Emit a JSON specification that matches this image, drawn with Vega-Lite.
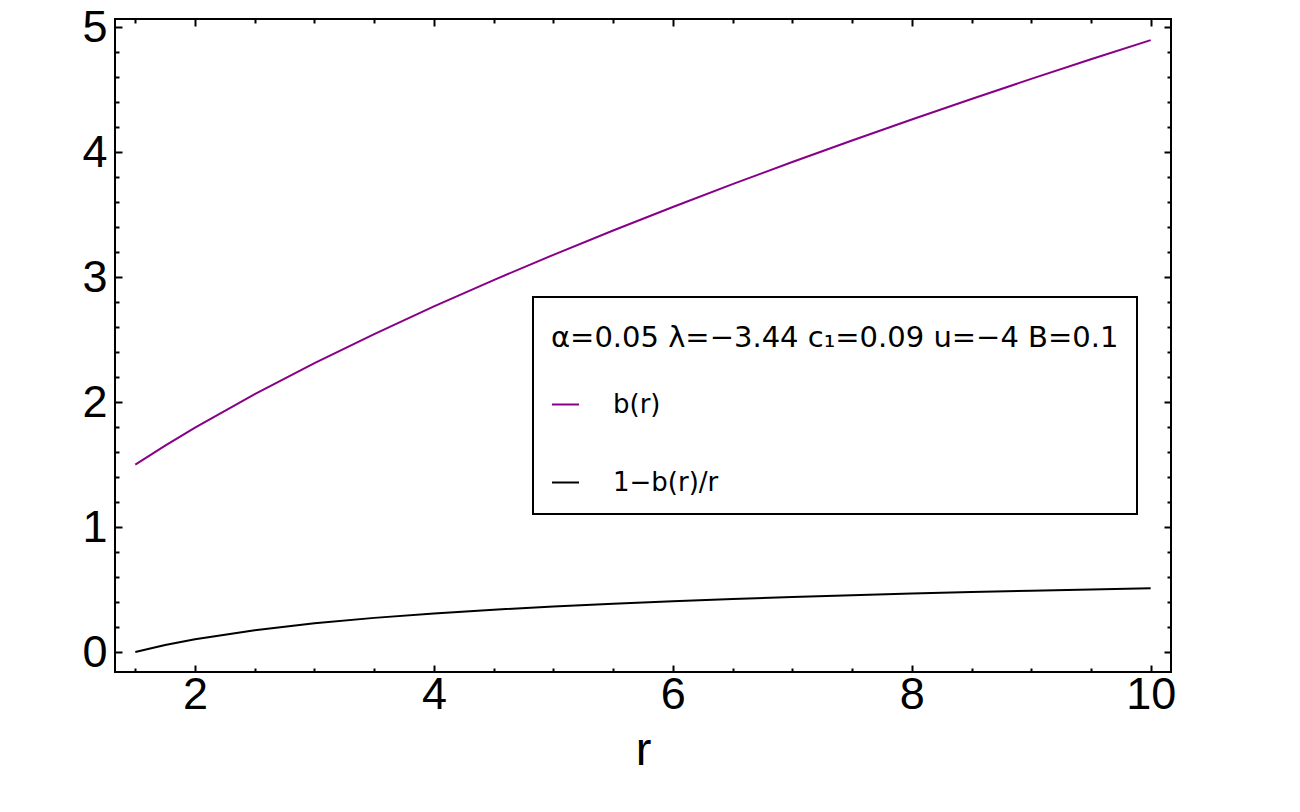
{
  "$schema": "https://vega.github.io/schema/vega-lite/v6.json",
  "autosize": "none",
  "width": 1056,
  "height": 653,
  "padding": {"left": 115, "top": 19, "right": 129, "bottom": 140},
  "background": "white",
  "config": {
    "view": {"stroke": "black", "strokeWidth": 2},
    "axis": {"grid": false, "domain": false, "labelFont": "Liberation Sans", "labelFontSize": 45, "labelColor": "black", "tickColor": "black", "tickWidth": 2, "labelOverlap": false, "labelFlush": false, "titleFont": "Liberation Sans", "titleFontWeight": "normal", "titleColor": "black", "format": "d"}
  },
  "resolve": {"axis": {"x": "independent", "y": "independent"}},
  "data": {"values": [
    {"r": 1.5, "v": 1.5, "s": "b(r)"},
    {"r": 1.75, "v": 1.651, "s": "b(r)"},
    {"r": 2, "v": 1.795, "s": "b(r)"},
    {"r": 2.5, "v": 2.063, "s": "b(r)"},
    {"r": 3, "v": 2.311, "s": "b(r)"},
    {"r": 3.5, "v": 2.544, "s": "b(r)"},
    {"r": 4, "v": 2.765, "s": "b(r)"},
    {"r": 4.5, "v": 2.976, "s": "b(r)"},
    {"r": 5, "v": 3.178, "s": "b(r)"},
    {"r": 5.5, "v": 3.373, "s": "b(r)"},
    {"r": 6, "v": 3.561, "s": "b(r)"},
    {"r": 6.5, "v": 3.744, "s": "b(r)"},
    {"r": 7, "v": 3.921, "s": "b(r)"},
    {"r": 7.5, "v": 4.093, "s": "b(r)"},
    {"r": 8, "v": 4.261, "s": "b(r)"},
    {"r": 8.5, "v": 4.425, "s": "b(r)"},
    {"r": 9, "v": 4.586, "s": "b(r)"},
    {"r": 9.5, "v": 4.743, "s": "b(r)"},
    {"r": 10, "v": 4.896, "s": "b(r)"},
    {"r": 1.5, "v": 0.0, "s": "1−b(r)/r"},
    {"r": 1.75, "v": 0.0564, "s": "1−b(r)/r"},
    {"r": 2, "v": 0.1025, "s": "1−b(r)/r"},
    {"r": 2.5, "v": 0.1748, "s": "1−b(r)/r"},
    {"r": 3, "v": 0.2297, "s": "1−b(r)/r"},
    {"r": 3.5, "v": 0.2731, "s": "1−b(r)/r"},
    {"r": 4, "v": 0.3087, "s": "1−b(r)/r"},
    {"r": 4.5, "v": 0.3387, "s": "1−b(r)/r"},
    {"r": 5, "v": 0.3644, "s": "1−b(r)/r"},
    {"r": 5.5, "v": 0.3867, "s": "1−b(r)/r"},
    {"r": 6, "v": 0.4065, "s": "1−b(r)/r"},
    {"r": 6.5, "v": 0.424, "s": "1−b(r)/r"},
    {"r": 7, "v": 0.4399, "s": "1−b(r)/r"},
    {"r": 7.5, "v": 0.4543, "s": "1−b(r)/r"},
    {"r": 8, "v": 0.4674, "s": "1−b(r)/r"},
    {"r": 8.5, "v": 0.4794, "s": "1−b(r)/r"},
    {"r": 9, "v": 0.4904, "s": "1−b(r)/r"},
    {"r": 9.5, "v": 0.5007, "s": "1−b(r)/r"},
    {"r": 10, "v": 0.5104, "s": "1−b(r)/r"}
  ]},
  "layer": [
    {
      "transform": [{"filter": "datum.s === 'b(r)'"}],
      "mark": {"type": "line", "strokeWidth": 2, "clip": true},
      "encoding": {
        "x": {"field": "r", "type": "quantitative", "scale": {"domain": [1.33, 10.17], "nice": false, "zero": false},
          "axis": {"orient": "bottom", "title": "r", "titleFontSize": 47, "titlePadding": 10,
            "values": [2, 4, 6, 8, 10], "tickSize": -7, "labelPadding": 7}},
        "y": {"field": "v", "type": "quantitative", "scale": {"domain": [-0.16, 5.065], "nice": false, "zero": false},
          "axis": {"orient": "left", "title": null, "values": [0, 1, 2, 3, 4, 5], "tickSize": -7, "labelPadding": 15}},
        "color": {"field": "s", "type": "nominal",
          "scale": {"domain": ["b(r)", "1−b(r)/r"], "range": ["#880088", "#000000"]},
          "legend": {"orient": "none", "legendX": 418, "legendY": 278, "title": "α=0.05 λ=−3.44 c₁=0.09 u=−4 B=0.1",
            "titleFont": "DejaVu Sans", "titleFontSize": 29, "titleFontWeight": "normal", "titleColor": "black", "titleAnchor": "start", "titlePadding": 46, "titleLimit": 2000,
            "labelFont": "DejaVu Sans", "labelFontSize": 26, "labelColor": "black", "labelOffset": 33, "labelLimit": 1000,
            "symbolType": "stroke", "symbolSize": 729, "symbolStrokeWidth": 2, "rowPadding": 50,
            "strokeColor": "black", "padding": 18,
            "encode": {"legend": {"update": {"strokeWidth": {"value": 2}}}, "title": {"update": {"dy": {"value": 9}}}}}}
      }
    },
    {
      "transform": [{"filter": "datum.s !== 'b(r)'"}],
      "mark": {"type": "line", "strokeWidth": 2, "clip": true},
      "encoding": {
        "x": {"field": "r", "type": "quantitative", "scale": {"domain": [1.33, 10.17], "nice": false, "zero": false},
          "axis": {"orient": "top", "title": null, "labels": false, "values": [2, 4, 6, 8, 10], "tickSize": -7}},
        "y": {"field": "v", "type": "quantitative", "scale": {"domain": [-0.16, 5.065], "nice": false, "zero": false},
          "axis": {"orient": "right", "title": null, "labels": false, "values": [0, 1, 2, 3, 4, 5], "tickSize": -7}},
        "color": {"field": "s", "type": "nominal",
          "scale": {"domain": ["b(r)", "1−b(r)/r"], "range": ["#880088", "#000000"]}}
      }
    },
    {
      "mark": {"type": "line", "opacity": 0},
      "encoding": {
        "x": {"field": "r", "type": "quantitative", "scale": {"domain": [1.33, 10.17], "nice": false, "zero": false},
          "axis": {"orient": "bottom", "title": null, "labels": false, "values": [1.5,2.5,3,3.5,4.5,5,5.5,6.5,7,7.5,8.5,9,9.5], "tickSize": -4}},
        "y": {"field": "v", "type": "quantitative", "scale": {"domain": [-0.16, 5.065], "nice": false, "zero": false},
          "axis": {"orient": "left", "title": null, "labels": false, "values": [0.2,0.4,0.6,0.8,1.2,1.4,1.6,1.8,2.2,2.4,2.6,2.8,3.2,3.4,3.6,3.8,4.2,4.4,4.6,4.8], "tickSize": -4}},
        "detail": {"field": "s", "type": "nominal"}
      }
    },
    {
      "mark": {"type": "line", "opacity": 0},
      "encoding": {
        "x": {"field": "r", "type": "quantitative", "scale": {"domain": [1.33, 10.17], "nice": false, "zero": false},
          "axis": {"orient": "top", "title": null, "labels": false, "values": [1.5,2.5,3,3.5,4.5,5,5.5,6.5,7,7.5,8.5,9,9.5], "tickSize": -4}},
        "y": {"field": "v", "type": "quantitative", "scale": {"domain": [-0.16, 5.065], "nice": false, "zero": false},
          "axis": {"orient": "right", "title": null, "labels": false, "values": [0.2,0.4,0.6,0.8,1.2,1.4,1.6,1.8,2.2,2.4,2.6,2.8,3.2,3.4,3.6,3.8,4.2,4.4,4.6,4.8], "tickSize": -4}},
        "detail": {"field": "s", "type": "nominal"}
      }
    }
  ]
}
